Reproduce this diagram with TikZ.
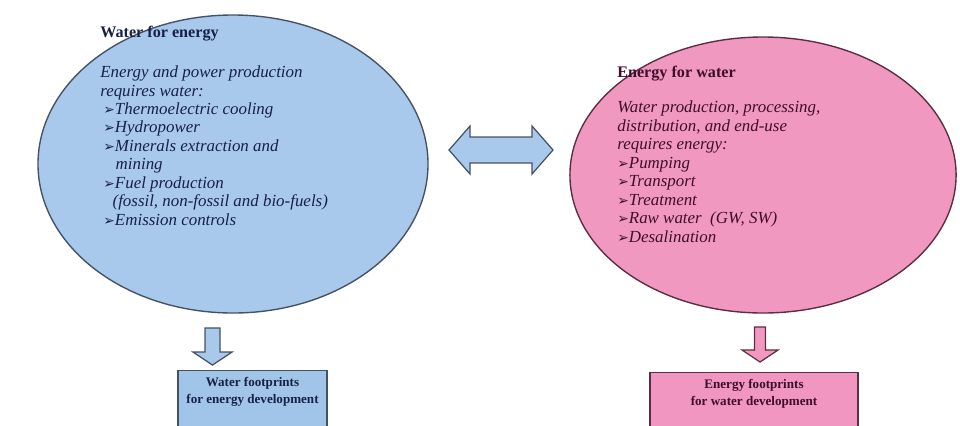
\documentclass[tikz,border=0pt]{standalone}
\usepackage{fontspec}
\setmainfont{Liberation Serif}
\newfontfamily\dingfont{DejaVu Sans}
\usetikzlibrary{shapes.geometric, positioning}

\definecolor{waterfill}{RGB}{168,201,236}
\definecolor{waterline}{RGB}{70,82,100}
\definecolor{watertext}{RGB}{24,32,70}
\definecolor{waterbox}{RGB}{160,197,232}
\definecolor{energyfill}{RGB}{241,152,192}
\definecolor{energyline}{RGB}{92,46,66}
\definecolor{energytext}{RGB}{62,14,44}
\definecolor{energybox}{RGB}{240,150,192}

\newcommand{\itm}{{\dingfont\fontsize{9}{9}\selectfont ➢}}

\begin{document}
\begin{tikzpicture}[
	x=0.65pt, y=-0.65pt,
	bubble/.style={ellipse, line width=0.9pt, inner sep=0pt},
	heading/.style={inner sep=0pt, anchor=base west, font=\fontsize{10.5}{12}\selectfont\bfseries},
	itemlist/.style={inner sep=0pt, align=left, anchor=north west, font=\fontsize{11}{12}\selectfont\itshape},
	footbox/.style={rectangle, line width=0.9pt, anchor=north, align=center, inner xsep=2pt, inner ysep=4.5pt, text depth=40pt, font=\fontsize{8.5}{11}\selectfont\bfseries},
	blockarrow/.style={line width=0.8pt, line join=miter}
]
\useasboundingbox (0,0) rectangle (960,425);

% Ellipses
\node[bubble, draw=waterline, fill=waterfill, minimum width=253.5pt, minimum height=193.7pt] (wfe) at (233,164) {};
\node[bubble, draw=energyline, fill=energyfill, minimum width=251pt, minimum height=179.4pt] (efw) at (763,175) {};

% Left text
\node[heading, text=watertext] (wfetitle) at (100,37) {Water for energy};
\node[itemlist, text=watertext] (wfelist) [below=16pt of wfetitle.south west, anchor=north west] {%
Energy and power production\\
requires water:\\
\hspace*{2pt}\itm Thermoelectric cooling\\
\hspace*{2pt}\itm Hydropower\\
\hspace*{2pt}\itm Minerals extraction and\\
\hspace*{10pt}mining\\
\hspace*{2pt}\itm Fuel production\\
\hspace*{8pt}(fossil, non-fossil and bio-fuels)\\
\hspace*{2pt}\itm Emission controls};

% Right text
\node[heading, text=energytext] (efwtitle) at (617,77) {Energy for water};
\node[itemlist, text=energytext] (efwlist) [below=13pt of efwtitle.south west, anchor=north west] {%
Water production, processing,\\
distribution, and end-use\\
requires energy:\\
\itm Pumping\\
\itm Transport\\
\itm Treatment\\
\itm Raw water~ (GW, SW)\\
\itm Desalination};

% Two-way arrow
\draw[blockarrow, draw=waterline, fill=waterfill] (449,150) -- (470,126) -- (470,137) -- (532,137) -- (532,126) -- (553,150)
	-- (532,174) -- (532,163) -- (470,163) -- (470,174) -- cycle;

% Down arrows
\draw[blockarrow, draw=waterline, fill=waterfill] (205,328) -- (220,328) -- (220,352) -- (232,352) -- (212.5,365)
	-- (193,352) -- (205,352) -- cycle;
\draw[blockarrow, draw=energyline, fill=energyfill] (754.5,327) -- (765.5,327) -- (765.5,350) -- (778,350) -- (760,362)
	-- (742,350) -- (754.5,350) -- cycle;

% Footprint boxes
\node[footbox, draw=waterline, fill=waterbox, text=watertext, minimum width=96.9pt] (wfoot) at (252.5,370) {Water footprints\\for energy development};
\node[footbox, draw=energyline, fill=energybox, text=energytext, minimum width=135.2pt] (efoot) at (754,372) {Energy footprints\\for water development};

\end{tikzpicture}
\end{document}
